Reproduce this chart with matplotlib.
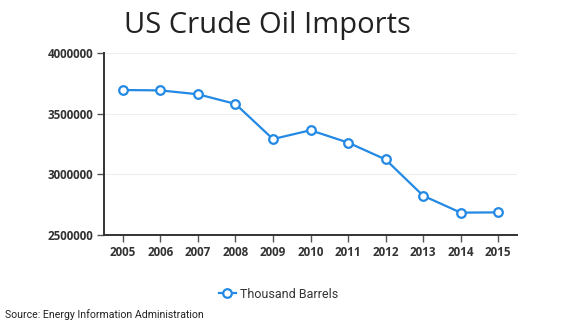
import matplotlib
matplotlib.use("Agg")
import matplotlib.pyplot as plt

years = [2005, 2006, 2007, 2008, 2009, 2010, 2011, 2012, 2013, 2014, 2015]
imports = [3696000, 3693000, 3661000, 3581000, 3290000, 3363000, 3261000, 3121000, 2821000, 2681000, 2683000]
yticks = [2500000, 3000000, 3500000, 4000000]
series_name = "Thousand Barrels"
title = "US Crude Oil Imports"
source = "Source: Energy Information Administration"

W, H = 582, 327
fig = plt.figure(figsize=(W/100, H/100), dpi=100)
ax = fig.add_axes([104/W, 1-234.5/H, (517-104)/W, (234.5-53.3)/H])

color = "#2389e4"
ax.plot(years, imports, color=color, lw=1.6, marker="o", ms=6.2,
        mfc="white", mec=color, mew=1.6, label=series_name, zorder=3)

ax.set_xlim(2004.5, 2015.5)
ax.set_ylim(2500000, 4000000)
ax.set_xticks(years)
ax.set_xticklabels([str(y) for y in years])
ax.set_yticks(yticks)
ax.set_yticklabels([str(v) for v in yticks])
ax.grid(axis="y", color="#eeeeee", lw=0.8, zorder=0)
for s in ["top", "right"]:
    ax.spines[s].set_visible(False)
for s in ["left", "bottom"]:
    ax.spines[s].set_color("#333333")
    ax.spines[s].set_linewidth(1.4)
ax.tick_params(axis="both", direction="out", length=5, width=1, color="#555555",
               labelsize=8.4, labelcolor="#333333", pad=3)
for lab in ax.get_xticklabels() + ax.get_yticklabels():
    lab.set_fontfamily("Open Sans")
    lab.set_fontweight("bold")

fig.text(267/W, 1-26/H, title, ha="center", va="center", fontsize=21,
         family="Open Sans", color="#222222")
leg = fig.legend(loc="center", bbox_to_anchor=(279/W, 1-294/H), frameon=False,
                 prop={"family": "Roboto", "size": 9}, handlelength=1.3,
                 handletextpad=0.4)
for t in leg.get_texts():
    t.set_color("#333333")
fig.text(5/W, 1-315/H, source, ha="left", va="center", fontsize=7.6,
         family="Roboto", color="#222222")

fig.savefig("out.png", dpi=100, facecolor="white")
